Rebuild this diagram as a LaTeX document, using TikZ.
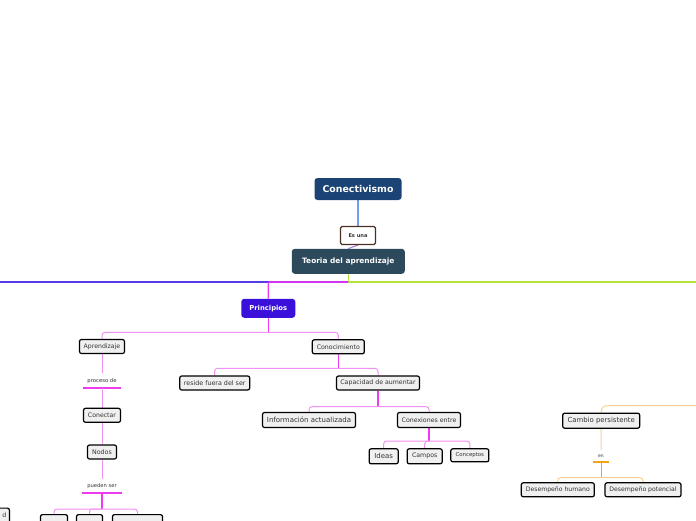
\documentclass[tikz,border=0pt]{standalone}
\usepackage{fontspec}
\setmainfont{DejaVu Sans}
\usetikzlibrary{calc,backgrounds}
\definecolor{cDarkBlue}{HTML}{1C4375}
\definecolor{cSlate}{HTML}{2D4A5D}
\definecolor{cViolet}{HTML}{3A10DA}
\definecolor{cLineBlue}{HTML}{6F9DF2}
\definecolor{cLilac}{HTML}{A27CD9}
\definecolor{cBrown}{HTML}{4A3024}
\definecolor{cGreen}{HTML}{B5E33C}
\definecolor{cPurple}{HTML}{A22CEE}
\definecolor{cBlueViolet}{HTML}{5A3AE6}
\definecolor{magL}{HTML}{F390F3}
\definecolor{magD}{HTML}{EE3BEE}
\definecolor{orL}{HTML}{FBD092}
\definecolor{orD}{HTML}{F7A21B}
\definecolor{txt}{HTML}{333333}
\definecolor{boxfill}{HTML}{F0F0F0}
\newcommand\fsz[1]{\fontsize{#1}{#1}\selectfont}
\tikzset{
  box/.style={draw=black, line width=1.2pt, rounded corners=2pt, fill=boxfill, inner sep=0pt, text=txt},
  darkbox/.style={rounded corners=3pt, text=white, inner sep=0pt},
  thinline/.style={draw=magL, line width=1pt},
  trunkline/.style={draw=magD, line width=1.5pt},
  uline/.style={draw=magD, line width=1.5pt},
  othin/.style={draw=orL, line width=1pt},
  otrunk/.style={draw=orD, line width=1.5pt},
  lbl/.style={inner xsep=0pt, inner ysep=4.5pt, text=txt, anchor=south},
}
\begin{document}
\begin{tikzpicture}[x=1pt,y=-1pt]
\useasboundingbox (0,0) rectangle (696,520);
\clip (0,0) rectangle (696,520);

% top nodes
\node[darkbox, fill=cDarkBlue, minimum width=87pt, minimum height=22pt, font=\fsz{9.4}\bfseries] (conect) at (358,189) {Conectivismo};
\node[draw=cBrown, line width=1.2pt, fill=white, rounded corners=1.5pt, inner sep=0pt, minimum width=35pt, minimum height=18pt, font=\fsz{5.1}\bfseries, text=txt] (esuna) at (358,235.5) {Es una};
\node[darkbox, fill=cSlate, minimum width=113pt, minimum height=25pt, font=\fsz{7.4}\bfseries] (teoria) at (348.3,261.3) {Teoria del aprendizaje};
\node[darkbox, fill=cViolet, minimum width=54pt, minimum height=19pt, font=\fsz{6.8}\bfseries] (prin) at (268.3,308.3) {Principios};

% left branch: Aprendizaje
\node[box, minimum width=45pt, minimum height=14pt, font=\fsz{6.2}] (apr) at (102,346.5) {Aprendizaje};
\node[box, minimum width=52pt, minimum height=14pt, font=\fsz{6.25}] (cono) at (338.3,346.8) {Conocimiento};
\node[lbl, minimum width=38pt, font=\fsz{5.3}] (proc) at (102,388) {proceso de};
\node[box, minimum width=37pt, minimum height=14pt, font=\fsz{6.2}] (conectar) at (102,415.3) {Conectar};
\node[box, minimum width=29pt, minimum height=14pt, font=\fsz{6.3}] (nodos) at (102,452) {Nodos};
\node[lbl, minimum width=39pt, font=\fsz{5.2}] (pue) at (102,493) {pueden ser};
\node[box, minimum width=27pt, minimum height=15pt, anchor=north] (b1) at (54,514) {};
\node[box, minimum width=26pt, minimum height=15pt, anchor=north] (b2) at (89.5,514) {};
\node[box, minimum width=50pt, minimum height=15pt, anchor=north] (b3) at (137.5,514) {};
\node[box, text width=34pt, align=right, inner xsep=3pt, minimum height=15pt, anchor=north east, font=\fsz{6.2}] (dleft) at (10,507.5) {d};

% Conocimiento branch
\node[box, minimum width=70pt, minimum height=14pt, font=\fsz{6.35}] (reside) at (214.7,383) {reside fuera del ser};
\node[box, minimum width=83pt, minimum height=14pt, font=\fsz{6.25}] (capa) at (378,383) {Capacidad de aumentar};
\node[box, minimum width=93pt, minimum height=15pt, font=\fsz{7.0}] (info) at (309,420) {Información actualizada};
\node[box, minimum width=63pt, minimum height=15pt, font=\fsz{6.25}] (conex) at (429,420) {Conexiones entre};
\node[box, minimum width=29pt, minimum height=15pt, font=\fsz{6.9}] (ideas) at (383.7,456.3) {Ideas};
\node[box, minimum width=35pt, minimum height=15pt, font=\fsz{6.25}] (campos) at (424.7,456.3) {Campos};
\node[box, minimum width=38pt, minimum height=13pt, font=\fsz{5.4}] (concep) at (469.8,455.3) {Conceptos};

% right branch
\node[box, minimum width=77pt, minimum height=15pt, font=\fsz{6.9}] (cambio) at (601.2,420.7) {Cambio persistente};
\node[lbl, minimum width=16pt, font=\fsz{4.5}] (en) at (601,462) {en};
\node[box, minimum width=73pt, minimum height=14pt, font=\fsz{6.15}] (dhum) at (557.8,489.8) {Desempeño humano};
\node[box, minimum width=76pt, minimum height=14pt, font=\fsz{6.15}] (dpot) at (643,489.8) {Desempeño potencial};

\coordinate (hub) at (348.3,282);
\coordinate (pjoin) at (268.3,282);
\coordinate (rightend) at (696,282);
\coordinate (leftend) at (0,282);
\coordinate (pj1) at (268.3,332.3);
\coordinate (pj2) at (102,509);
\coordinate (cj) at (338,368.3);
\coordinate (kj) at (378,406.7);
\coordinate (xj) at (429,441);
\coordinate (redge) at (696,405.7);
\coordinate (oj) at (601,477.7);

\begin{scope}[on background layer]
\draw[draw=cLineBlue, line width=1.5pt] (conect.south) -- (esuna.north);
\draw[draw=cLilac, line width=1pt] (esuna.south) -- (teoria.north);
\draw[draw=cGreen, line width=1.5pt] (teoria.south) -- (hub) -- (rightend);
\draw[draw=cPurple, line width=1.5pt] (hub) -- (pjoin);
\draw[draw=cBlueViolet, line width=1.5pt] (pjoin) -- (leftend);
\draw[draw=magD, line width=1.2pt, rounded corners=2pt] (hub) -- (pjoin) -- (prin.north);

\draw[trunkline, line width=1pt] (prin.south) -- (pj1);
\draw[thinline, rounded corners=3pt] (apr.north) |- (pj1) -| (cono.north);

\draw[uline] (proc.south west) -- (proc.south east);
\draw[uline] (pue.south west) -- (pue.south east);
\draw[thinline] (apr.south) -- (proc.north);
\draw[thinline] (proc.south) -- (conectar.north);
\draw[thinline] (conectar.south) -- (nodos.north);
\draw[thinline] (nodos.south) -- (pue.north);
\draw[trunkline] (pue.south) -- (pj2);
\draw[thinline, rounded corners=3pt] (b1.north) |- (pj2) -| (b3.north);
\draw[thinline, rounded corners=3pt] (b2.north) |- (pj2);

\draw[trunkline] (cono.south) -- (cono.south |- cj);
\draw[thinline, rounded corners=3pt] (reside.north) |- (cj) -| (capa.north);
\draw[trunkline] (capa.south) -- (kj);
\draw[thinline, rounded corners=3pt] (info.north) |- (kj) -| (conex.north);
\draw[trunkline] (conex.south) -- (xj);
\draw[thinline, rounded corners=3pt] (ideas.north) |- (xj) -| (concep.north);
\draw[thinline, rounded corners=3pt] (campos.north) |- (xj);

\draw[othin, rounded corners=6pt] (redge) -| (cambio.north);
\draw[draw=orD, line width=1.5pt] (en.south west) -- (en.south east);
\draw[othin] (cambio.south) -- (en.north);
\draw[otrunk, line width=1pt] (en.south) -- (oj);
\draw[othin, rounded corners=3pt] (dhum.north) |- (oj) -| (dpot.north);
\end{scope}
\end{tikzpicture}
\end{document}
